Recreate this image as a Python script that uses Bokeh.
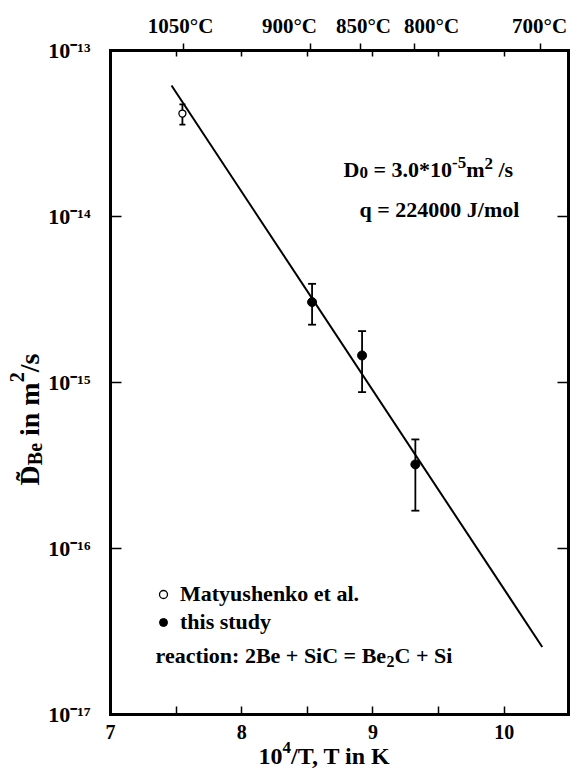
import math
from bokeh.plotting import figure
from bokeh.models import (Range1d, FixedTicker, LinearAxis, LogAxis, Label, Whisker,
                          ColumnDataSource, TeeHead, Legend, LegendItem)
from bokeh.embed import file_html
from bokeh.resources import INLINE

# ---------------- data ----------------
lit_x = [7.548]
lit_d = [4.17e-14]
lit_lo = [3.58e-14]
lit_hi = [4.73e-14]

study_x = [8.536, 8.917, 9.323]
study_d = [3.05e-15, 1.455e-15, 3.21e-16]
study_lo = [2.23e-15, 8.75e-16, 1.69e-16]
study_hi = [3.93e-15, 2.04e-15, 4.54e-16]

fit_x = [7.465, 10.29]
fit_d = [6.15e-14, 2.55e-17]

x_lim = (7, 10.49)
y_lim = (1e-17, 1e-13)
x_ticks = [7, 8, 9, 10]
x_minor = [7.5, 8.5, 9.5]
y_ticks = [1e-17, 1e-16, 1e-15, 1e-14, 1e-13]
y_tick_labels = ["10⁻¹⁷", "10⁻¹⁶", "10⁻¹⁵", "10⁻¹⁴", "10⁻¹³"]
top_temps_C = [1050, 900, 850, 800, 700]
top_labels = ["1050°C", "900°C", "850°C", "800°C", "700°C"]
top_label_x = [7.534, 8.364, 8.928, 9.447, 10.27]   # where the labels sit in the figure
top_minor = [7.5, 8, 8.5, 9, 9.5, 10]

FONT = "Liberation Serif"
NB = "\u00a0"

# plotting area covers the whole canvas; the box is drawn by axes fixed at the limits
PX_X = 131.23      # pixels per unit of 1e4/T
PX_Y = 166.0       # pixels per decade
x0 = x_lim[0] - 110 / PX_X
x1 = x_lim[1] + 2 / PX_X
y0 = 10 ** (math.log10(y_lim[0]) - 56 / PX_Y)
y1 = 10 ** (math.log10(y_lim[1]) + 50 / PX_Y)

p = figure(width=570, height=770, x_range=Range1d(x0, x1), y_range=Range1d(y0, y1),
           y_axis_type="log", output_backend="svg", toolbar_location=None, title=None,
           min_border=0, min_border_left=0, min_border_right=0, min_border_top=0,
           min_border_bottom=0, background_fill_color="white", border_fill_color="white")
p.xgrid.visible = False
p.ygrid.visible = False
p.outline_line_color = None

def style_axis(ax, size):
    ax.axis_line_color = "black"
    ax.axis_line_width = 3
    ax.axis_line_cap = "square"
    ax.major_label_text_font = FONT
    ax.major_label_text_font_style = "bold"
    ax.major_label_text_font_size = size
    ax.major_label_text_color = "black"
    ax.major_tick_line_color = "black"
    ax.minor_tick_line_color = "black"
    ax.major_tick_line_width = 1.5
    ax.minor_tick_line_width = 1.5

# bottom axis
xa = p.xaxis[0]
xa.ticker = FixedTicker(ticks=x_ticks, minor_ticks=x_minor)
xa.fixed_location = y_lim[0]
xa.bounds = x_lim
style_axis(xa, "20px")
xa.major_tick_in = 8
xa.major_tick_out = 0
xa.minor_tick_in = 8
xa.minor_tick_out = 0
xa.major_label_standoff = 10

# left axis
ya = p.yaxis[0]
ya.ticker = FixedTicker(ticks=y_ticks, minor_ticks=[])
ya.fixed_location = x_lim[0]
ya.bounds = y_lim
ya.major_label_overrides = dict(zip(y_ticks, y_tick_labels))
style_axis(ya, "22px")
ya.major_tick_in = 11
ya.major_tick_out = 0
ya.minor_tick_line_color = None
ya.major_label_standoff = 20

# right axis (mirror ticks only)
ra = LogAxis(ticker=FixedTicker(ticks=y_ticks, minor_ticks=[]), fixed_location=x_lim[1],
             bounds=y_lim)
style_axis(ra, "0px")
ra.major_tick_in = 11
ra.major_tick_out = 0
ra.minor_tick_line_color = None
ra.major_label_standoff = 0
ra.major_label_overrides = {t: "" for t in y_ticks}
p.add_layout(ra, "right")

# top axis: temperature tick marks (true 1e4/T positions) + mirror minor ticks
top_pos = [1e4 / (t + 273.15) for t in top_temps_C]
ta = LinearAxis(ticker=FixedTicker(ticks=top_pos, minor_ticks=top_minor),
                fixed_location=y_lim[1], bounds=x_lim)
style_axis(ta, "0px")
ta.major_label_overrides = {t: "" for t in top_pos}
ta.major_tick_out = 7
ta.major_tick_in = 0
ta.minor_tick_in = 6
ta.minor_tick_out = 0
ta.major_label_standoff = 0
p.add_layout(ta, "above")

# top axis: temperature labels
tl = LinearAxis(ticker=FixedTicker(ticks=top_label_x, minor_ticks=[]),
                fixed_location=y_lim[1], bounds=x_lim)
style_axis(tl, "21px")
tl.axis_line_color = None
tl.major_label_overrides = dict(zip(top_label_x, top_labels))
tl.major_tick_line_color = None
tl.minor_tick_line_color = None
tl.major_tick_out = 0
tl.major_tick_in = 0
tl.minor_tick_out = 0
tl.minor_tick_in = 0
tl.major_label_standoff = 13
p.add_layout(tl, "above")

# ---------------- marks ----------------
src_lit = ColumnDataSource(dict(x=lit_x, d=lit_d, lo=lit_lo, hi=lit_hi))
src_st = ColumnDataSource(dict(x=study_x, d=study_d, lo=study_lo, hi=study_hi))

p.line(fit_x, fit_d, line_color="black", line_width=2)

for src, cap in ((src_lit, 6), (src_st, 8)):
    p.add_layout(Whisker(source=src, base="x", upper="hi", lower="lo", dimension="height",
                         line_color="black", line_width=1.8,
                         upper_head=TeeHead(size=cap, line_width=1.8, line_color="black"),
                         lower_head=TeeHead(size=cap, line_width=1.8, line_color="black")))

r_lit = p.scatter("x", "d", source=src_lit, marker="circle", size=7,
                  fill_color="white", line_color="black", line_width=1.3)
r_st = p.scatter("x", "d", source=src_st, marker="circle", size=9,
                 fill_color="black", line_color="black")

legend = Legend(items=[LegendItem(label="Matyushenko et al.", renderers=[r_lit]),
                       LegendItem(label="this study", renderers=[r_st])],
                location=(153, 135), glyph_width=20, glyph_height=24, label_height=24,
                spacing=2, padding=0, margin=0, label_standoff=7,
                border_line_color=None, background_fill_alpha=0,
                label_text_font=FONT, label_text_font_style="bold",
                label_text_font_size="22px", label_text_color="black")
p.add_layout(legend)

# ---------------- texts ----------------
W = {' ': 250, NB: 250, '*': 500, '+': 570, ',': 250, '-': 333, '.': 250, '/': 278,
     ':': 333, '=': 570, 'B': 667, 'C': 722, 'D': 722, 'J': 500, 'K': 778, 'S': 556,
     'T': 667, 'a': 500, 'c': 444, 'e': 444, 'i': 278, 'l': 278, 'm': 833, 'n': 556,
     'o': 500, 'q': 556, 'r': 444, 's': 389, 't': 333, '\u0303': 0}
BASE_FIX = 7   # the rendered alphabetic baseline sits this many px lower than asked

def tw(s, size):
    return sum(W.get(c, 500) for c in s) * size / 1000.0

def runs(x, y, parts, angle=0.0):
    off = 0.0
    for text, size, shift in parts:
        kw = dict(x=x, y=y, text=text, text_font=FONT,
                  text_font_style="bold", text_font_size=f"{size}px", text_color="black",
                  text_align="left", text_baseline="alphabetic")
        if angle == 0.0:
            lab = Label(x_offset=off, y_offset=shift + BASE_FIX, **kw)
        else:
            lab = Label(x_offset=-shift - BASE_FIX, y_offset=off, angle=angle, **kw)
        p.add_layout(lab)
        off += tw(text, size)

runs(8.776, 10 ** -13.759, [("D", 22, 0), ("0", 17, -3), (NB + "=" + NB + "3.0*10", 22, 0),
                            ("-5", 17, 7), ("m", 22, 0), ("2", 17, 6), (NB + "/s", 22, 0)])
runs(8.898, 10 ** -14.0, [("q = 224000 J/mol", 22, 0)])
runs(7.343, 10 ** -16.687, [("reaction: 2Be + SiC = Be", 22, 0), ("2", 16, -6),
                            ("C + Si", 22, 0)])
# axis titles
runs(8.128, 10 ** -17.295, [("10", 24, 0), ("4", 17, 9), ("/T, T in K", 24, 0)])
runs(6.436, 10 ** -15.62, [("D\u0303", 28, 0), ("Be", 20, -6), (NB + "in" + NB + "m", 28, 0),
                           ("2", 20, 12), ("/s", 28, 0)], angle=math.pi / 2)

open("out.html", "w").write(file_html(p, INLINE))
